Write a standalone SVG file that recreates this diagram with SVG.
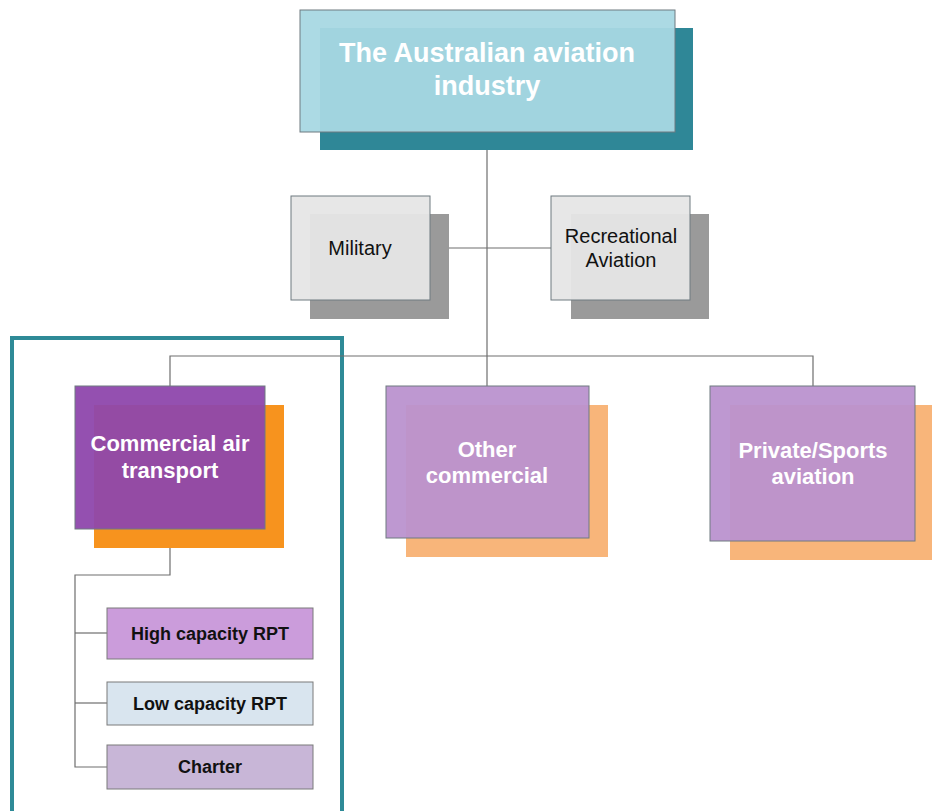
<svg xmlns="http://www.w3.org/2000/svg" width="932" height="811" viewBox="0 0 932 811">
<style>
.front{stroke:#6f7a80;stroke-width:1;fill-opacity:0.95}
.line{stroke:#6e6e6e;stroke-width:1.2;fill:none}
.tw{font-family:"Liberation Sans",Arial,sans-serif;font-weight:bold;fill:#ffffff;text-anchor:middle}
.tb{font-family:"Liberation Sans",Arial,sans-serif;fill:#111111;text-anchor:middle}
.sub{stroke:#7a7a7a;stroke-width:1}
</style>
<rect width="932" height="811" fill="#ffffff"/>
<g id="frame">
<rect x="12" y="338" width="330" height="480" fill="none" stroke="#2E8A97" stroke-width="4"/>
</g>
<g id="connectors">
<path class="line" d="M487 132 V356"/>
<path class="line" d="M430 248 H551"/>
<path class="line" d="M170 386 V356 H813 V386"/>
<path class="line" d="M487 356 V386"/>
<path class="line" d="M170 529 V575 H75 V767 H107"/>
<path class="line" d="M75 633 H107"/>
<path class="line" d="M75 703 H107"/>
</g>
<g id="node-top">
<rect x="320" y="28" width="373" height="122" fill="#2F8797"/>
<rect class="front" x="300" y="10" width="375" height="122" fill="#A8D8E3"/>
<text class="tw" x="487" y="62" font-size="27">The Australian aviation</text>
<text class="tw" x="487" y="95" font-size="27">industry</text>
</g>
<g id="node-military">
<rect x="310" y="214" width="139" height="105" fill="#9A9A9A"/>
<rect class="front" x="291" y="196" width="139" height="104" fill="#E6E6E6"/>
<text class="tb" x="360" y="255" font-size="20">Military</text>
</g>
<g id="node-recreational">
<rect x="571" y="214" width="138" height="105" fill="#9A9A9A"/>
<rect class="front" x="551" y="196" width="139" height="104" fill="#E6E6E6"/>
<text class="tb" x="621" y="243" font-size="20">Recreational</text>
<text class="tb" x="621" y="267" font-size="20">Aviation</text>
</g>
<g id="node-commercial-air">
<rect x="94" y="405" width="190" height="143" fill="#F7931E"/>
<rect class="front" x="75" y="386" width="190" height="143" fill="#8E47AC"/>
<text class="tw" x="170" y="451" font-size="22">Commercial air</text>
<text class="tw" x="170" y="478" font-size="22">transport</text>
</g>
<g id="node-other-commercial">
<rect x="406" y="405" width="202" height="152" fill="#F8B57A"/>
<rect class="front" x="386" y="386" width="203" height="152" fill="#BA92CF"/>
<text class="tw" x="487" y="457" font-size="22">Other</text>
<text class="tw" x="487" y="483" font-size="22">commercial</text>
</g>
<g id="node-private">
<rect x="730" y="405" width="202" height="155" fill="#F8B57A"/>
<rect class="front" x="710" y="386" width="205" height="155" fill="#BA92CF"/>
<text class="tw" x="813" y="458" font-size="22">Private/Sports</text>
<text class="tw" x="813" y="484" font-size="22">aviation</text>
</g>
<g id="node-high">
<rect class="sub" x="107" y="608" width="206" height="51" fill="#CB9CDB"/>
<text class="tb" x="210" y="640" font-size="18" font-weight="bold">High capacity RPT</text>
</g>
<g id="node-low">
<rect class="sub" x="107" y="682" width="206" height="43" fill="#D9E5EF"/>
<text class="tb" x="210" y="710" font-size="18" font-weight="bold">Low capacity RPT</text>
</g>
<g id="node-charter">
<rect class="sub" x="107" y="745" width="206" height="44" fill="#C8B6D7"/>
<text class="tb" x="210" y="773" font-size="18" font-weight="bold">Charter</text>
</g>
</svg>
